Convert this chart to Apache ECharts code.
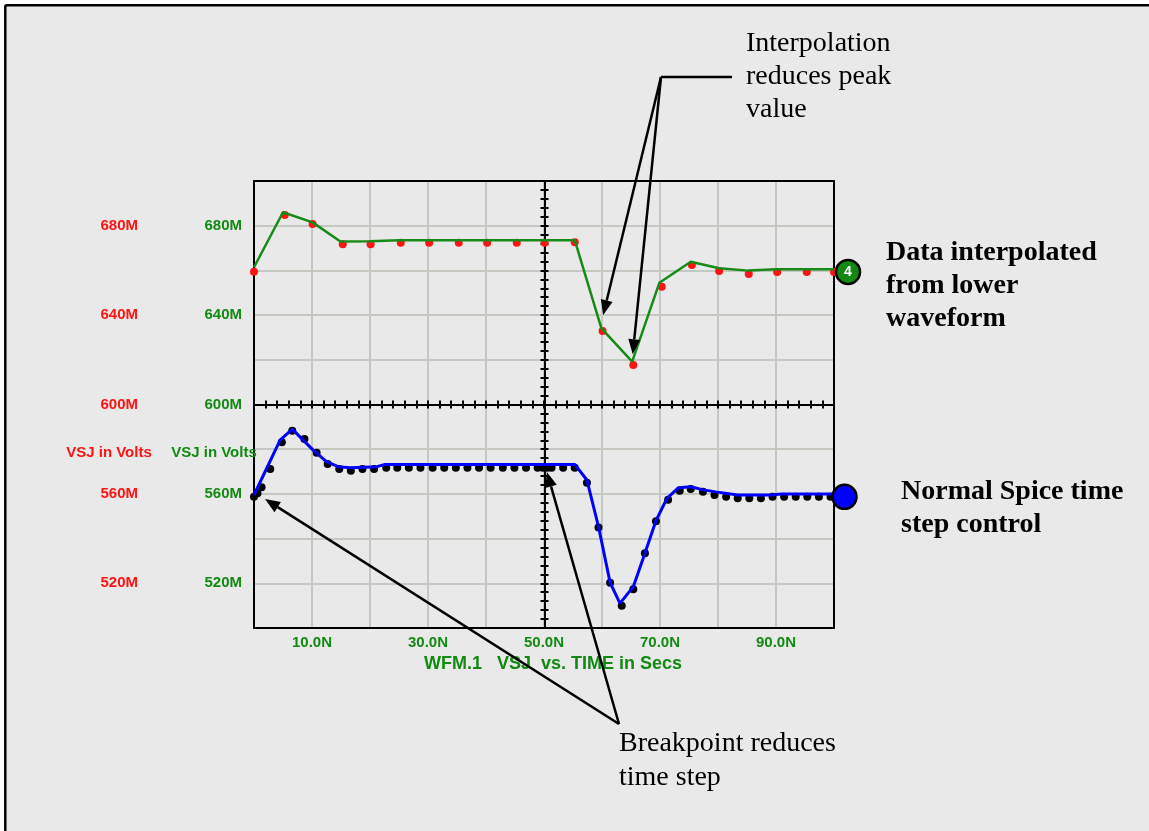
<!DOCTYPE html>
<html>
<head>
<meta charset="utf-8">
<script src="https://cdn.jsdelivr.net/npm/echarts@6/dist/echarts.min.js"></script>
<style>
html,body{margin:0;padding:0;background:#ffffff;}
#c{width:1149px;height:831px;}
</style>
</head>
<body>
<div id="c"></div>
<script>
// ---------- data (time in ns, voltage in mV; "M" = milli in SPICE notation) ----------
const xTickValues = [10, 30, 50, 70, 90];
const xTickLabels = ['10.0N', '30.0N', '50.0N', '70.0N', '90.0N'];
const yTickValues = [520, 560, 600, 640, 680];
const yTickLabels = ['520M', '560M', '600M', '640M', '680M'];

// upper waveform: data interpolated from lower waveform (red dots, green line)
const upperDotT = [0, 5.3, 10.1, 15.3, 20.1, 25.3, 30.2, 35.3, 40.2, 45.3, 50.1, 55.3, 60.1, 65.4, 70.3, 75.5, 80.2, 85.3, 90.2, 95.3, 100];
const upperDotV = [659.4, 684.8, 680.8, 671.7, 671.7, 672.4, 672.4, 672.4, 672.4, 672.4, 672.4, 672.6, 632.9, 617.7, 652.7, 662.4, 659.7, 658.4, 659.3, 659.3, 659.3];
const upperLineT = [0, 5, 10.1, 14.9, 20, 25, 55.3, 59.9, 65.2, 69.9, 75.3, 80.2, 85.2, 90, 100];
const upperLineV = [661.4, 686, 681.5, 672.9, 673, 673.5, 673.5, 634.1, 619.2, 654.5, 663.9, 661, 659.9, 660.5, 660.5];

// lower waveform: normal SPICE time step control (black dots, blue line)
const lowerDotT = [0, 0.6, 1.3, 2.8, 4.8, 6.6, 8.7, 10.8, 12.7, 14.7, 16.7, 18.7, 20.7, 22.8, 24.7, 26.7, 28.7, 30.8, 32.8, 34.8, 36.8, 38.8, 40.8, 42.9, 44.9, 46.9, 48.9, 49.8, 50.6, 51.3, 53.3, 55.3, 57.4, 59.4, 61.4, 63.4, 65.4, 67.4, 69.3, 71.4, 73.4, 75.3, 77.4, 79.4, 81.4, 83.4, 85.4, 87.4, 89.4, 91.4, 93.4, 95.4, 97.4, 99.4];
const lowerDotV = [558.7, 560.3, 563, 571.1, 583.1, 588.2, 584.6, 578.4, 573.4, 571.1, 570.4, 571.1, 571.1, 571.7, 571.7, 571.7, 571.7, 571.7, 571.7, 571.7, 571.7, 571.7, 571.7, 571.7, 571.7, 571.7, 571.7, 571.7, 571.7, 571.7, 571.7, 571.7, 565, 545, 520.3, 509.9, 517.3, 533.4, 547.8, 557.4, 561.4, 562.2, 561, 559.5, 558.7, 558, 558, 558, 558.7, 558.7, 558.7, 558.7, 558.7, 558.7];
const lowerLineT = [0, 4.5, 6.6, 10.2, 12.5, 14.5, 16.6, 21.2, 22.6, 55.3, 57.4, 59.4, 61.4, 63.1, 65.4, 67.4, 69.3, 71.2, 73.2, 75.3, 77.5, 79.6, 83.4, 89, 91, 100];
const lowerLineV = [559.5, 584.1, 589, 579.6, 574.4, 572.2, 571.7, 572.2, 573.2, 573.2, 566.2, 545.3, 520.3, 511, 518.5, 533.4, 548, 558, 562.8, 563.2, 561.8, 560.9, 559.5, 559.5, 560, 560];

// annotation arrow targets (data coordinates)
const interpTips = [[60.2, 640], [65.3, 622.5]];
const breakTips = [[1.9, 557.7], [50.5, 569.8]];

// ---------- styling ----------
const GREEN = '#128a12';
const RED = '#ff1414';
const GRIDC = '#c3c8c1';
const SANS = 'Liberation Sans';

const zip = (a, b) => a.map((v, i) => [v, b[i]]);

const chart = echarts.init(document.getElementById('c'), null, {renderer: 'canvas'});

const crossX = (inside) => ({
  type: 'value', min: 0, max: 100, interval: 2, position: 'bottom', offset: -223.5,
  axisLine: {show: true, onZero: false, lineStyle: {color: '#000', width: 2}},
  axisTick: {show: true, inside: inside, length: 4, lineStyle: {color: '#000', width: 2}},
  axisLabel: {show: false}, splitLine: {show: false}
});
const crossY = (inside) => ({
  type: 'value', min: 500, max: 700, interval: 4, position: 'left', offset: -290.5,
  axisLine: {show: true, onZero: false, lineStyle: {color: '#000', width: 2}},
  axisTick: {show: true, inside: inside, length: 4, lineStyle: {color: '#000', width: 2}},
  axisLabel: {show: false}, splitLine: {show: false}
});
const frameAxis = (type, pos, min, max) => ({
  type: 'value', min: min, max: max, position: pos,
  axisLine: {show: true, onZero: false, lineStyle: {color: '#000', width: 2}},
  axisTick: {show: false}, axisLabel: {show: false}, splitLine: {show: false}
});
const yLabelFmt = (v) => { const i = yTickValues.indexOf(Math.round(v)); return i >= 0 ? yTickLabels[i] : ''; };

const option = {
  backgroundColor: '#e9e9e9',
  animation: false,
  grid: {left: 254, top: 181, width: 580, height: 447, show: false, containLabel: false},
  xAxis: [
    {
      type: 'value', min: 0, max: 100, interval: 10, position: 'bottom',
      axisLine: {show: true, onZero: false, lineStyle: {color: '#000', width: 2}},
      axisTick: {show: false},
      splitLine: {show: true, lineStyle: {color: GRIDC, width: 2}},
      axisLabel: {
        formatter: (v) => { const i = xTickValues.indexOf(Math.round(v)); return i >= 0 ? xTickLabels[i] : ''; },
        color: GREEN, fontFamily: SANS, fontWeight: 'bold', fontSize: 15, margin: 7
      },
      name: 'WFM.1   VSJ  vs. TIME in Secs', nameLocation: 'middle', nameGap: 27,
      nameTextStyle: {color: GREEN, fontFamily: SANS, fontWeight: 'bold', fontSize: 18, padding: [0, 0, 0, 18]}
    },
    crossX(true), crossX(false),
    frameAxis('x', 'top', 0, 100)
  ],
  yAxis: [
    {
      type: 'value', min: 500, max: 700, interval: 20, position: 'left',
      axisLine: {show: true, onZero: false, lineStyle: {color: '#000', width: 2}},
      axisTick: {show: false},
      splitLine: {show: true, lineStyle: {color: GRIDC, width: 2}},
      axisLabel: {formatter: yLabelFmt, color: GREEN, fontFamily: SANS, fontWeight: 'bold', fontSize: 15, margin: 12}
    },
    {
      type: 'value', min: 500, max: 700, interval: 20, position: 'left', offset: 104,
      axisLine: {show: false, onZero: false}, axisTick: {show: false}, splitLine: {show: false},
      axisLabel: {formatter: yLabelFmt, color: RED, fontFamily: SANS, fontWeight: 'bold', fontSize: 15, margin: 12}
    },
    crossY(true), crossY(false),
    frameAxis('y', 'right', 500, 700)
  ],
  series: [
    {name: 'VSJ interpolated', type: 'scatter', data: zip(upperDotT, upperDotV), symbolSize: 8, itemStyle: {color: RED, opacity: 1}, z: 2},
    {name: 'VSJ', type: 'scatter', data: zip(lowerDotT, lowerDotV), symbolSize: 8, itemStyle: {color: '#000', opacity: 1}, z: 2},
    {name: 'WFM interp', type: 'line', data: zip(upperLineT, upperLineV), showSymbol: false, lineStyle: {color: '#178a17', width: 2.5}, z: 3},
    {name: 'WFM.1', type: 'line', data: zip(lowerLineT, lowerLineV), showSymbol: false, lineStyle: {color: '#0000ff', width: 3}, z: 3},
    {
      name: 'markers', type: 'scatter', clip: false, symbolSize: 24, symbolOffset: [14, 0], z: 6,
      data: [
        {value: [upperDotT[upperDotT.length - 1], upperDotV[upperDotV.length - 1]], itemStyle: {color: '#128a12', opacity: 1, borderColor: '#000', borderWidth: 2.5},
         label: {show: true, position: 'inside', formatter: '4', color: '#fff', fontFamily: SANS, fontWeight: 'bold', fontSize: 14}},
        {value: [lowerDotT[lowerDotT.length - 1], lowerDotV[lowerDotV.length - 1]], itemStyle: {color: '#0000ff', opacity: 1, borderColor: '#000', borderWidth: 2.5}}
      ]
    }
  ]
};
chart.setOption(option);

// ---------- annotations ----------
function arrow(from, to) {
  const dx = to[0] - from[0], dy = to[1] - from[1];
  const len = Math.hypot(dx, dy);
  const ux = dx / len, uy = dy / len;
  const L = 15, W = 6;
  const bx = to[0] - ux * L, by = to[1] - uy * L;
  const nx = -uy, ny = ux;
  return [
    {type: 'line', shape: {x1: from[0], y1: from[1], x2: bx, y2: by}, style: {stroke: '#000', lineWidth: 2.5}, z: 20},
    {type: 'polygon', shape: {points: [[to[0], to[1]], [bx + nx * W, by + ny * W], [bx - nx * W, by - ny * W]]}, style: {fill: '#000'}, z: 20}
  ];
}
const px = (p) => chart.convertToPixel({xAxisIndex: 0, yAxisIndex: 0}, p);

const interpJoin = [661, 77];
const breakJoin = [619, 724];
const g = [
  {type: 'rect', shape: {x: 0, y: 0, width: 1149, height: 4}, style: {fill: '#ffffff'}, z: 1},
  {type: 'rect', shape: {x: 0, y: 0, width: 4, height: 831}, style: {fill: '#ffffff'}, z: 1},
  {type: 'line', shape: {x1: 5.3, y1: 5.3, x2: 1149, y2: 5.3}, style: {stroke: '#000', lineWidth: 2.5}, z: 2},
  {type: 'line', shape: {x1: 5.3, y1: 5.3, x2: 5.3, y2: 831}, style: {stroke: '#000', lineWidth: 2.5}, z: 2},
  {type: 'text', x: 109, y: 453, style: {text: 'VSJ in Volts', fill: RED, font: 'bold 15px "Liberation Sans"', align: 'center', verticalAlign: 'middle'}, z: 5},
  {type: 'text', x: 214, y: 453, style: {text: 'VSJ in Volts', fill: GREEN, font: 'bold 15px "Liberation Sans"', align: 'center', verticalAlign: 'middle'}, z: 5},
  {type: 'text', x: 746, y: 27, style: {text: 'Interpolation\nreduces peak\nvalue', fill: '#000', font: '28px "Liberation Serif"', lineHeight: 33, align: 'left', verticalAlign: 'top'}, z: 5},
  {type: 'text', x: 619, y: 727, style: {text: 'Breakpoint reduces\ntime step', fill: '#000', font: '28px "Liberation Serif"', lineHeight: 34, align: 'left', verticalAlign: 'top'}, z: 5},
  {type: 'text', x: 886, y: 236, style: {text: 'Data interpolated\nfrom lower\nwaveform', fill: '#000', font: 'bold 28px "Liberation Serif"', lineHeight: 33, align: 'left', verticalAlign: 'top'}, z: 5},
  {type: 'text', x: 901, y: 475, style: {text: 'Normal Spice time\nstep control', fill: '#000', font: 'bold 28px "Liberation Serif"', lineHeight: 33, align: 'left', verticalAlign: 'top'}, z: 5},
  {type: 'line', shape: {x1: interpJoin[0], y1: interpJoin[1], x2: 732, y2: interpJoin[1]}, style: {stroke: '#000', lineWidth: 2.5}, z: 20}
];
interpTips.forEach(t => g.push(...arrow(interpJoin, px(t))));
breakTips.forEach(t => g.push(...arrow(breakJoin, px(t))));
chart.setOption({graphic: {elements: g}});
</script>
</body>
</html>
